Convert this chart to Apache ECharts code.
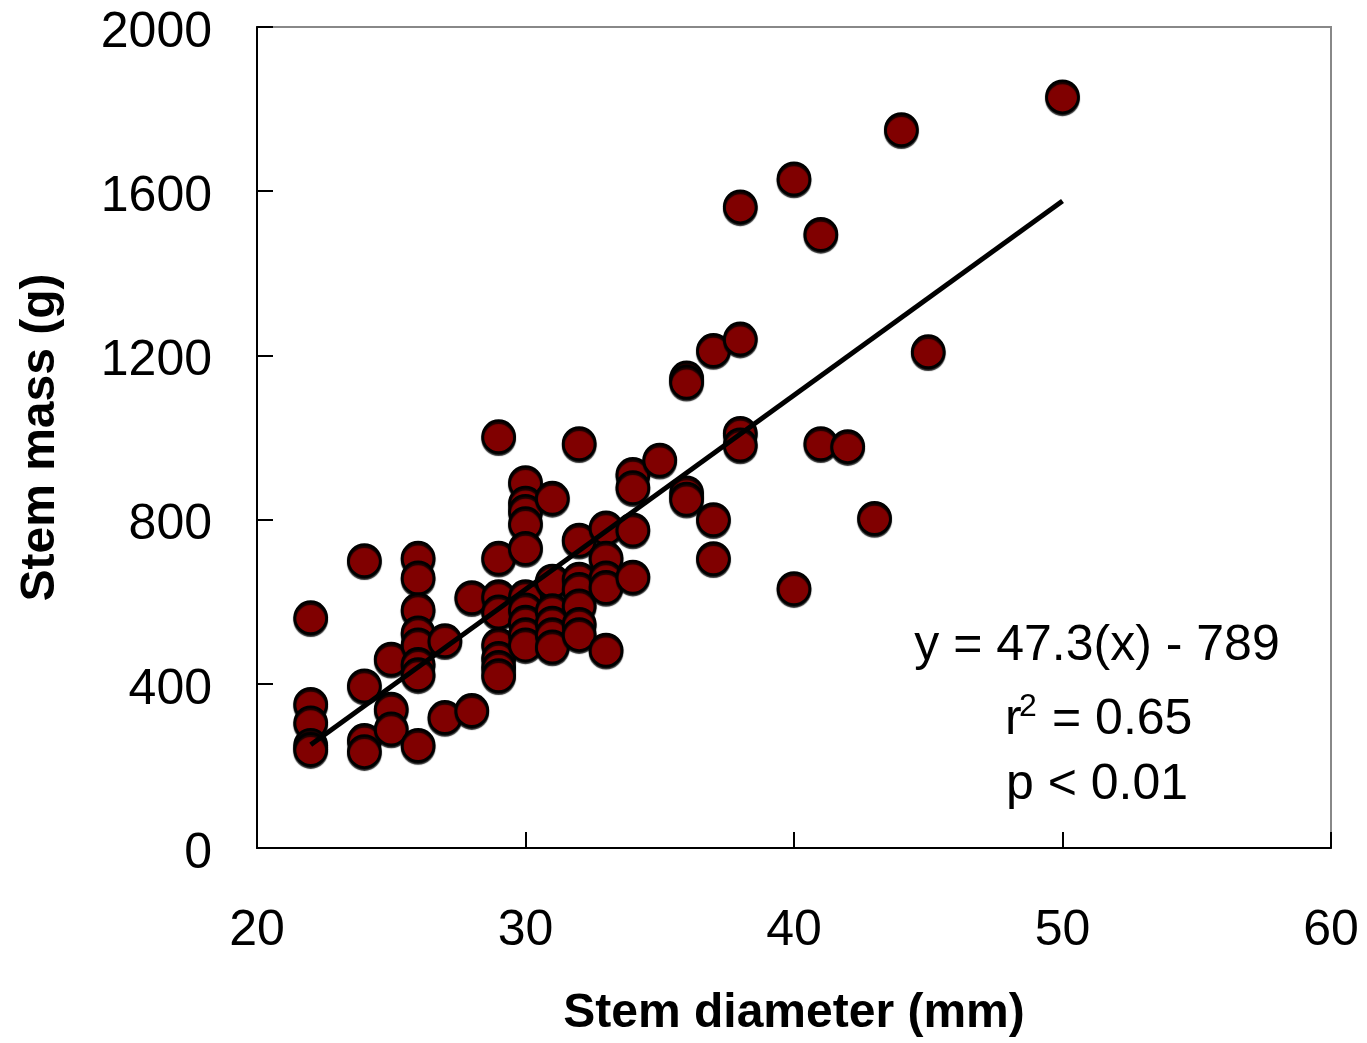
<!DOCTYPE html>
<html>
<head>
<meta charset="utf-8">
<script src="https://cdn.jsdelivr.net/npm/echarts@6/dist/echarts.min.js"></script>
<style>html,body{margin:0;padding:0;background:#fff;}#c{width:1367px;height:1043px;}</style>
</head>
<body>
<div id="c"></div>
<script>
// Stem diameter (mm)
const diameter = [
  22,22,22,22,22,
  24,24,24,24,
  25,25,25,
  26,26,26,26,26,26,26,26,
  27,27,
  28,28,
  29,29,29,29,29,29,29,29,
  30,30,30,30,30,30,30,30,30,30,
  31,31,31,31,31,31,
  32,32,32,32,32,32,32,
  33,33,33,33,33,
  34,34,34,34,
  35,
  36,36,36,36,
  37,37,37,
  38,38,38,38,
  40,40,
  41,41,
  42,
  43,
  44,
  45,
  50
];
// Stem mass (g)
const mass = [
  561,350,305,250,240,
  700,395,262,235,
  460,338,290,
  706,658,580,524,495,447,422,250,
  505,318,
  610,335,
  1002,706,612,575,495,462,440,420,
  890,840,820,790,730,612,580,550,520,495,
  852,650,578,548,520,490,
  985,750,655,630,590,545,520,
  780,706,658,635,482,
  910,878,775,660,
  945,
  1145,1135,865,850,
  1212,800,705,
  1562,1240,1010,982,
  1630,632,
  1495,985,
  978,
  803,
  1750,
  1209,
  1830
];
// Regression line endpoints: y = 47.3(x) - 789
const trendX = [22, 50];
const trendY = [251.6, 1576];
const xTicks = [20, 30, 40, 50, 60];
const yTicks = [0, 400, 800, 1200, 1600, 2000];

const points = diameter.map((d, i) => [d, mass[i]]);
const trend = trendX.map((d, i) => [d, trendY[i]]);

const FONT = '"Liberation Sans", Arial, Helvetica, sans-serif';
const chart = echarts.init(document.getElementById('c'));
chart.setOption({
  animation: false,
  backgroundColor: '#fff',
  grid: { left: 257, right: 36, top: 27, bottom: 192, show: true, borderColor: '#888', borderWidth: 2, backgroundColor: 'transparent' },
  xAxis: {
    type: 'value', min: xTicks[0], max: xTicks[xTicks.length - 1], interval: 10,
    name: 'Stem diameter (mm)', nameLocation: 'middle', nameGap: 142,
    nameTextStyle: { fontFamily: FONT, fontWeight: 'bold', fontSize: 48, color: '#000' },
    axisLine: { lineStyle: { color: '#000', width: 2 } },
    axisTick: { inside: true, length: 16, lineStyle: { color: '#000', width: 2 } },
    axisLabel: { fontFamily: FONT, fontSize: 50, color: '#000', margin: 58, formatter: v => String(v) },
    splitLine: { show: false }
  },
  yAxis: {
    type: 'value', min: yTicks[0], max: yTicks[yTicks.length - 1], interval: 400,
    name: 'Stem mass (g)', nameLocation: 'middle', nameGap: 192,
    nameTextStyle: { fontFamily: FONT, fontWeight: 'bold', fontSize: 48, color: '#000' },
    axisLine: { lineStyle: { color: '#000', width: 2 } },
    axisTick: { inside: true, length: 16, lineStyle: { color: '#000', width: 2 } },
    axisLabel: { fontFamily: FONT, fontSize: 50, color: '#000', margin: 45, verticalAlign: 'top', lineHeight: 12, formatter: v => String(v) },
    splitLine: { show: false }
  },
  series: [
    {
      type: 'scatter', data: points, symbol: 'circle', symbolSize: 32, z: 2,
      itemStyle: { color: '#800000', borderColor: '#000', borderWidth: 2.8, opacity: 1, shadowColor: 'rgba(0,0,0,0.8)', shadowOffsetY: 2, shadowBlur: 1 }
    },
    {
      type: 'line', data: trend, symbol: 'none', z: 3,
      lineStyle: { color: '#000', width: 5 }
    }
  ],
  graphic: [
    { type: 'text', x: 1097, y: 646, style: { text: 'y = 47.3(x) - 789', font: '50px ' + FONT, fill: '#000', textAlign: 'center', textVerticalAlign: 'middle' } },
    { type: 'text', x: 1005, y: 720, style: { text: 'r', font: '50px ' + FONT, fill: '#000', textAlign: 'left', textVerticalAlign: 'middle' } },
    { type: 'text', x: 1019, y: 707, style: { text: '2', font: '32px ' + FONT, fill: '#000', textAlign: 'left', textVerticalAlign: 'middle' } },
    { type: 'text', x: 1052, y: 720, style: { text: '= 0.65', font: '50px ' + FONT, fill: '#000', textAlign: 'left', textVerticalAlign: 'middle' } },
    { type: 'text', x: 1097, y: 785, style: { text: 'p < 0.01', font: '50px ' + FONT, fill: '#000', textAlign: 'center', textVerticalAlign: 'middle' } }
  ]
});
</script>
</body>
</html>
